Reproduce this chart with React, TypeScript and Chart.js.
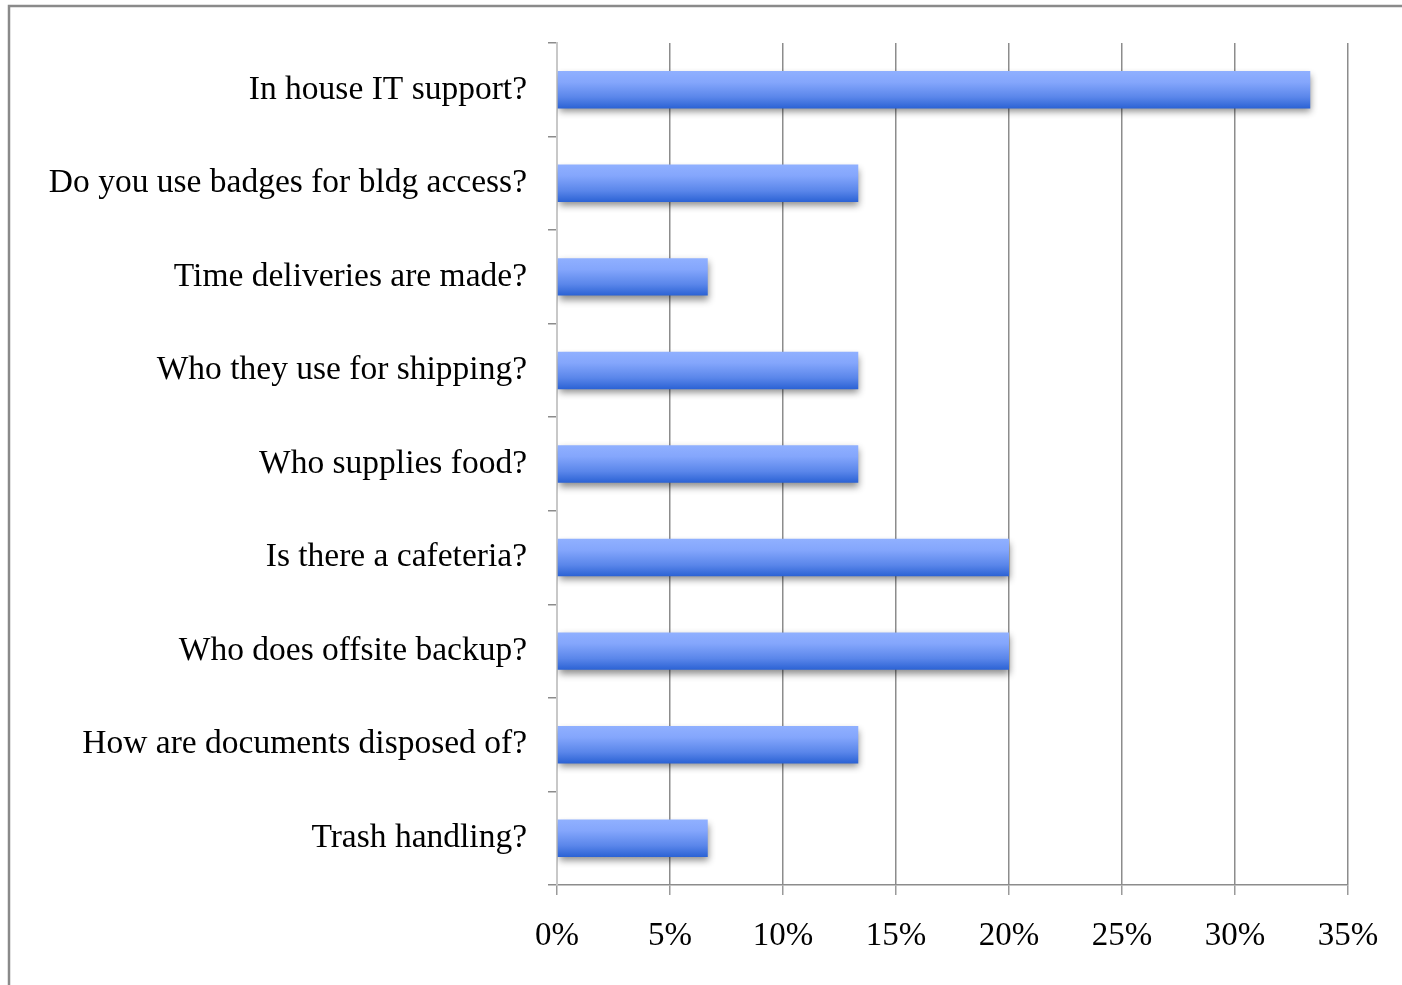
import React, { useEffect, useRef } from "react";
import { Chart, registerables } from "chart.js";

Chart.register(...registerables);

const categories: string[] = [
  "In house IT support?",
  "Do you use badges for bldg access?",
  "Time deliveries are made?",
  "Who they use for shipping?",
  "Who supplies food?",
  "Is there a cafeteria?",
  "Who does offsite backup?",
  "How are documents disposed of?",
  "Trash handling?",
];

const percentValues: number[] = [33.33, 13.33, 6.67, 13.33, 13.33, 20, 20, 13.33, 6.67];

const xTickValues: number[] = [0, 5, 10, 15, 20, 25, 30, 35];

const FONT = "'Liberation Serif', 'Times New Roman', serif";

const framePlugin = {
  id: "frame",
  beforeDraw(chart: any) {
    const { ctx, width, height } = chart;
    ctx.save();
    ctx.fillStyle = "#ffffff";
    ctx.fillRect(0, 0, width, height);
    ctx.strokeStyle = "#8a8a8a";
    ctx.lineWidth = 2.5;
    ctx.beginPath();
    ctx.moveTo(9, height);
    ctx.lineTo(9, 6);
    ctx.lineTo(width, 6);
    ctx.stroke();
    ctx.restore();
  },
};

const gradientShadowPlugin = {
  id: "gradientShadow",
  beforeDatasetsDraw(chart: any) {
    const { ctx } = chart;
    const meta = chart.getDatasetMeta(0);
    meta.data.forEach((el: any) => {
      const top = el.y - el.height / 2;
      const bottom = el.y + el.height / 2;
      const g = ctx.createLinearGradient(0, top, 0, bottom);
      g.addColorStop(0, "#90b0ff");
      g.addColorStop(0.3, "#84a6fc");
      g.addColorStop(0.7, "#5a86ea");
      g.addColorStop(1, "#2b62d4");
      el.options = Object.assign({}, el.options, { backgroundColor: g });
    });
    ctx.save();
    ctx.shadowColor = "rgba(0,0,0,0.45)";
    ctx.shadowBlur = 7;
    ctx.shadowOffsetX = 1;
    ctx.shadowOffsetY = 4;
  },
  afterDatasetsDraw(chart: any) {
    chart.ctx.restore();
  },
};

export default function App() {
  const canvasRef = useRef<HTMLCanvasElement | null>(null);

  useEffect(() => {
    if (!canvasRef.current) return;
    const chart = new Chart(canvasRef.current, {
      type: "bar",
      data: {
        labels: categories,
        datasets: [
          {
            data: percentValues,
            backgroundColor: () => "#6f96f4",
            borderWidth: 0,
            categoryPercentage: 1,
            barPercentage: 0.4,
          },
        ],
      },
      options: {
        indexAxis: "y",
        responsive: false,
        animation: false,
        events: [],
        layout: { padding: { top: 43, right: 54, bottom: 0, left: 0 } },
        plugins: {
          legend: { display: false },
          tooltip: { enabled: false },
        },
        scales: {
          x: {
            type: "linear",
            min: 0,
            max: 35,
            afterBuildTicks: (scale: any) => {
              scale.ticks = xTickValues.map((v) => ({ value: v }));
            },
            afterFit: (scale: any) => {
              scale.height = 100;
            },
            grid: {
              color: (c: any) => (c.tick && c.tick.value === 0 ? "#c8c8c8" : "#8c8c8c"),
              lineWidth: 1.5,
              tickLength: 10,
              tickColor: "#9a9a9a",
            },
            border: { color: "#8c8c8c", width: 1.5 },
            ticks: {
              color: "#000000",
              font: { family: FONT, size: 33 },
              padding: 22,
              callback: (v: any) => v + "%",
            },
          },
          y: {
            type: "category",
            afterFit: (scale: any) => {
              scale.width = 557;
            },
            grid: {
              offset: true,
              drawOnChartArea: false,
              tickLength: 9,
              tickColor: "#8c8c8c",
              lineWidth: 1.5,
            },
            border: { color: "#c8c8c8", width: 2 },
            ticks: {
              color: "#000000",
              font: { family: FONT, size: 33.5 },
              padding: 21,
            },
          },
        },
      },
      plugins: [framePlugin, gradientShadowPlugin],
    });
    return () => chart.destroy();
  }, []);

  return (
    <div style={{ position: "fixed", left: 0, top: 0, width: 1402, height: 985 }}>
      <canvas ref={canvasRef} width={1402} height={985} style={{ display: "block" }} />
    </div>
  );
}
